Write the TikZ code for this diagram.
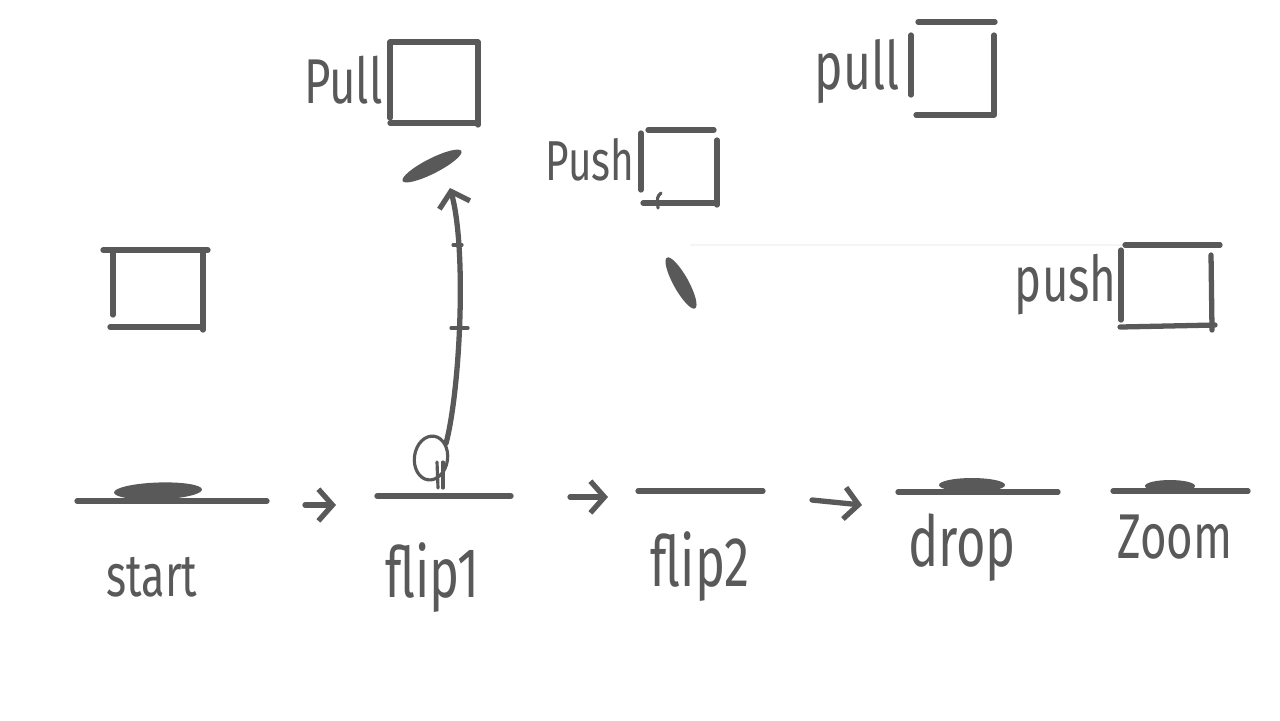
\documentclass[tikz,border=0pt]{standalone}
\usepackage{fontspec}
\setmainfont{Fira Sans}
\usetikzlibrary{arrows.meta,positioning,shapes.geometric}
\definecolor{pen}{HTML}{595959}

\begin{document}
\begin{tikzpicture}[
    x=0.01cm, y=-0.01cm,
    pen/.style={draw=pen, line width=1.5pt, line cap=round},
    thinpen/.style={draw=pen, line width=0.9pt, line cap=round},
    blob/.style={ellipse, fill=pen, inner sep=0pt},
    word/.style={text=pen, inner sep=0pt, xscale=0.72, font=\fontsize{#1}{#1}\selectfont},
    word/.default=20,
    arrow/.style={pen, -{Straight Barb[length=4pt, width=9pt]}}
]

\fill[white] (0,0) rectangle (1280,720);
\useasboundingbox (0,0) rectangle (1280,720);

% Start
\draw[pen] (77,501) coordinate (g0l) -- (267,501) coordinate (g0r);
\node[blob, minimum width=0.88cm, minimum height=0.17cm, rotate=2] (blob0) at (158,491) {};
\node[word=17] (start) at (152,577) {start};
\draw[pen] (103,250) -- (208,250);
\draw[pen] (113,250) -- (113,315);
\draw[pen] (110,327) -- (203,327);
\draw[pen] (203,252) -- (203,330);

% Arrow 1
\coordinate (a1s) at (305,505);
\coordinate (a1e) at (336,505);
\draw[arrow] (a1s) -- (a1e);

% Flip 1
\draw[pen] (377,496) coordinate (g1l) -- (511,496) coordinate (g1r);
\node[word] (flip1) at (432,578) {flip1};
\node[thinpen, ellipse, minimum width=0.24cm, minimum height=0.44cm, rotate=-8] (hand) at (431,458) {};
\draw[thinpen] (437,462) -- (438,488);
\draw[thinpen] (443,462) -- (443,488);
\coordinate (flytip) at (450,188);
\draw[arrow] (hand.north east) .. controls (460,390) and (467,250) .. (flytip);
\draw[thinpen] (453,245) -- (462,245);
\draw[thinpen] (451,328) -- (468,328);
\node[blob, minimum width=0.66cm, minimum height=0.15cm, rotate=27] (blob1) at (432,166) {};
\node[word=18, anchor=east] (pull1) at (383,80) {Pull};
\draw[pen] (390,42) -- (390,118);
\draw[pen] (390,42) -- (478,42);
\draw[pen] (478,42) -- (478,125);
\draw[pen] (390,123) -- (478,123);

% Arrow 2
\coordinate (a2s) at (570,497);
\coordinate (a2e) at (608,497);
\draw[arrow] (a2s) -- (a2e);

% Flip 2
\draw[pen] (638,491) coordinate (g2l) -- (763,491) coordinate (g2r);
\node[word] (flip2) at (700,567) {flip2};
\node[blob, minimum width=0.58cm, minimum height=0.15cm, rotate=-61] (blob2) at (681,283) {};
\node[word=16, anchor=east] (push1) at (635,160) {Push};
\draw[pen] (641,133) -- (641,190);
\draw[pen] (648,130) -- (714,130);
\draw[pen] (717,140) -- (717,205);
\draw[pen] (643,203) -- (717,203);
\draw[thinpen] (661,193) .. controls (657,197) .. (658,208);
\draw[black!4, line width=0.6pt] (690,245) -- (1220,245);

% Arrow 3
\coordinate (a3s) at (812,500);
\coordinate (a3e) at (862,505);
\draw[arrow] (a3s) -- (a3e);

% Drop
\draw[pen] (898,492) coordinate (g3l) -- (1058,492) coordinate (g3r);
\node[blob, minimum width=0.66cm, minimum height=0.14cm] (blob3) at (972,485) {};
\node[word] (drop) at (962,548) {drop};
\node[word=19, anchor=east] (pull2) at (900,72) {pull};
\draw[pen] (911,35) -- (911,95);
\draw[pen] (918,22) -- (995,22);
\draw[pen] (994,35) -- (994,115);
\draw[pen] (916,115) -- (994,115);
\node[word=18, anchor=east] (push2) at (1117,285) {push};
\draw[pen] (1121,250) -- (1121,320);
\draw[pen] (1125,245) -- (1220,245);
\draw[pen] (1211,255) -- (1212,330);
\draw[pen] (1120,327) -- (1215,325);

% Zoom
\draw[pen] (1113,491) coordinate (g4l) -- (1248,491) coordinate (g4r);
\node[blob, minimum width=0.5cm, minimum height=0.12cm] (blob4) at (1170,486) {};
\node[word=18] (zoom) at (1175,537) {Zoom};

\end{tikzpicture}
\end{document}
